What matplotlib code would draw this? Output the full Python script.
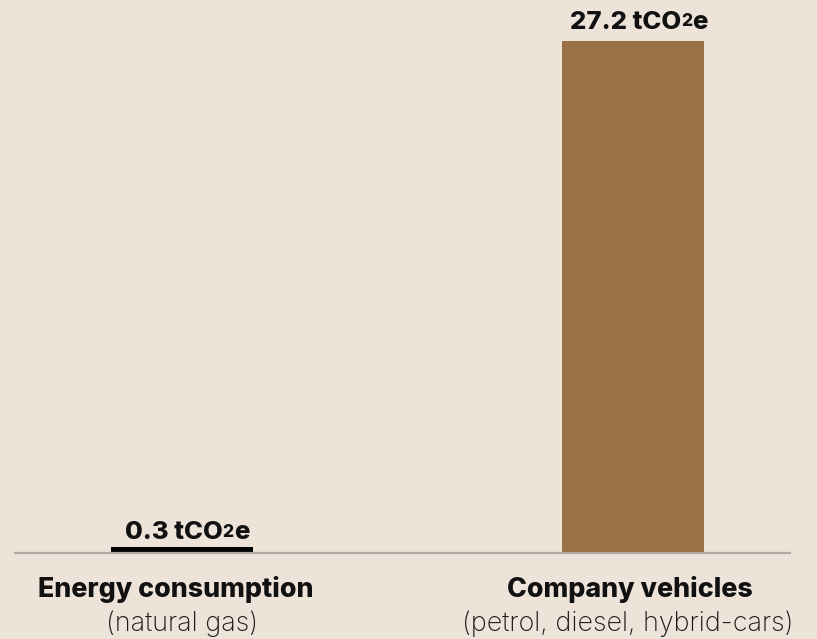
import matplotlib
matplotlib.use("Agg")
import matplotlib.pyplot as plt
from matplotlib.transforms import offset_copy

categories = ["Energy consumption", "Company vehicles"]
subtitles = ["(natural gas)", "(petrol, diesel, hybrid-cars)"]
values = [0.3, 27.2]
value_labels = ["0.3", "27.2"]
bar_colors = ["#000000", "#9A7047"]

BG = "#EDE3D9"
DPI = 100
fig = plt.figure(figsize=(8.17, 6.39), dpi=DPI, facecolor=BG)
W, H = 817, 639
left_px, right_px, base_px = 15, 790, 553
ax = fig.add_axes([left_px / W, 1 - base_px / H, (right_px - left_px) / W, base_px / H])
ax.set_facecolor(BG)
x = [0, 1]
ppu = 633 - 182
ax.bar(x, values, width=142 / ppu, color=bar_colors, zorder=2)
ax.set_xlim(0 - (182 - left_px) / ppu, 1 + (right_px - 633) / ppu)
ax.set_ylim(0, 27.2 * base_px / 512)
for s in ["top", "right", "left"]:
    ax.spines[s].set_visible(False)
ax.spines["bottom"].set_color("#B3ABA3")
ax.spines["bottom"].set_linewidth(1.6)
ax.set_xticks([])
ax.set_yticks([])

fig.canvas.draw()
renderer = fig.canvas.get_renderer()
BOLD = dict(family=["Inter", "DejaVu Sans"], fontweight="heavy")
LIGHT = dict(family=["Inter", "DejaVu Sans"], fontweight="light")


def width_px(s, fs, style):
    t = ax.text(0, 0, s, fontsize=fs, alpha=0, **style)
    w = t.get_window_extent(renderer).width
    t.remove()
    return w


def fit(s, target, style):
    return 10 * target / width_px(s, 10, style)


PARTS = lambda num: [(num + " tCO", 1.0, 0), ("2", 0.68, 2.5), ("e", 1.0, 0)]
tot10 = sum(width_px(s, 10 * r, BOLD) for s, r, _ in PARTS(value_labels[1]))
VAL_FS = 10 * 138 / tot10


def value_label(xc, y, num, lift, shift):
    parts = PARTS(num)
    widths = [width_px(s, VAL_FS * r, BOLD) for s, r, _ in parts]
    off = -sum(widths) / 2 + shift
    for (s, r, dy), w in zip(parts, widths):
        tr = offset_copy(ax.transData, fig=fig, x=off, y=lift + dy, units="dots")
        ax.text(xc, y, s, fontsize=VAL_FS * r, ha="left", va="baseline",
                transform=tr, color="#111111", **BOLD)
        off += w


value_label(x[0], values[0], value_labels[0], 8, 5)
value_label(x[1], values[1], value_labels[1], 12, 6)

CAT_FS = (fit(categories[0], 275, BOLD) + fit(categories[1], 246, BOLD)) / 2
SUB_FS = fit(subtitles[1], 333, LIGHT)
cat_shift = [-6, -3]
sub_shift = [0, -5]
for xi, cat, sub, cs, ss in zip(x, categories, subtitles, cat_shift, sub_shift):
    ax.annotate(cat, (xi, 0), xytext=(cs, -44), textcoords="offset pixels",
                ha="center", va="baseline", fontsize=CAT_FS,
                color="#111111", annotation_clip=False, **BOLD)
    ax.annotate(sub, (xi, 0), xytext=(ss, -78), textcoords="offset pixels",
                ha="center", va="baseline", fontsize=SUB_FS,
                color="#1A1A1A", annotation_clip=False, **LIGHT)

fig.savefig("out.png", dpi=DPI, facecolor=BG)
